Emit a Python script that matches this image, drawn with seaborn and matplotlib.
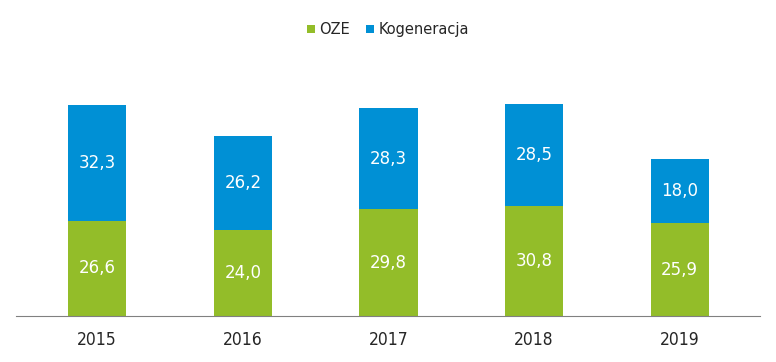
import seaborn as sns
import matplotlib.pyplot as plt
import pandas as pd

lata = ['2015', '2016', '2017', '2018', '2019']
oze = [26.6, 24.0, 29.8, 30.8, 25.9]
kogeneracja = [32.3, 26.2, 28.3, 28.5, 18.0]

zielony = '#93BD29'
niebieski = '#0090D5'

df = pd.DataFrame({'rok': lata, 'OZE': oze, 'Kogeneracja': kogeneracja})
df['suma'] = df['OZE'] + df['Kogeneracja']

sns.set_style('white')
plt.rcParams['font.family'] = ['DejaVu Sans']

fig = plt.figure(figsize=(7.76, 3.62), dpi=100)
ax = fig.add_axes([0.021, 0.127, 0.958, 0.693])

# stacked: first totals (blue), then green on top of them
sns.barplot(x='rok', y='suma', data=df, color=niebieski, width=0.4,
            saturation=1, ax=ax, label='Kogeneracja', linewidth=0)
sns.barplot(x='rok', y='OZE', data=df, color=zielony, width=0.4,
            saturation=1, ax=ax, label='OZE', linewidth=0)

for i, r in df.iterrows():
    ax.text(i, r['OZE'] / 2, f"{r['OZE']:.1f}".replace('.', ','),
            ha='center', va='center', color='white', fontsize=12)
    ax.text(i, r['OZE'] + r['Kogeneracja'] / 2,
            f"{r['Kogeneracja']:.1f}".replace('.', ','),
            ha='center', va='center', color='white', fontsize=12)

ax.set_ylim(0, 70)
ax.set_xlim(-0.556, 4.55)
ax.set_xlabel('')
ax.set_ylabel('')
ax.set_yticks([])
sns.despine(ax=ax, left=True)
ax.spines['bottom'].set_color('#808080')
ax.tick_params(axis='x', length=0, pad=11)
for t in ax.get_xticklabels():
    t.set_fontstretch('condensed')
    t.set_fontsize(12.5)

h, l = ax.get_legend_handles_labels()
if ax.get_legend() is not None:
    ax.get_legend().remove()
order = [l.index('OZE'), l.index('Kogeneracja')]
fig.legend([h[k] for k in order], [l[k] for k in order], loc='upper center',
           bbox_to_anchor=(0.5, 0.975), ncol=2, frameon=False, fontsize=10.5,
           handlelength=0.55, handleheight=0.55, handletextpad=0.3,
           columnspacing=1.1)

fig.savefig('out.png', dpi=100)
